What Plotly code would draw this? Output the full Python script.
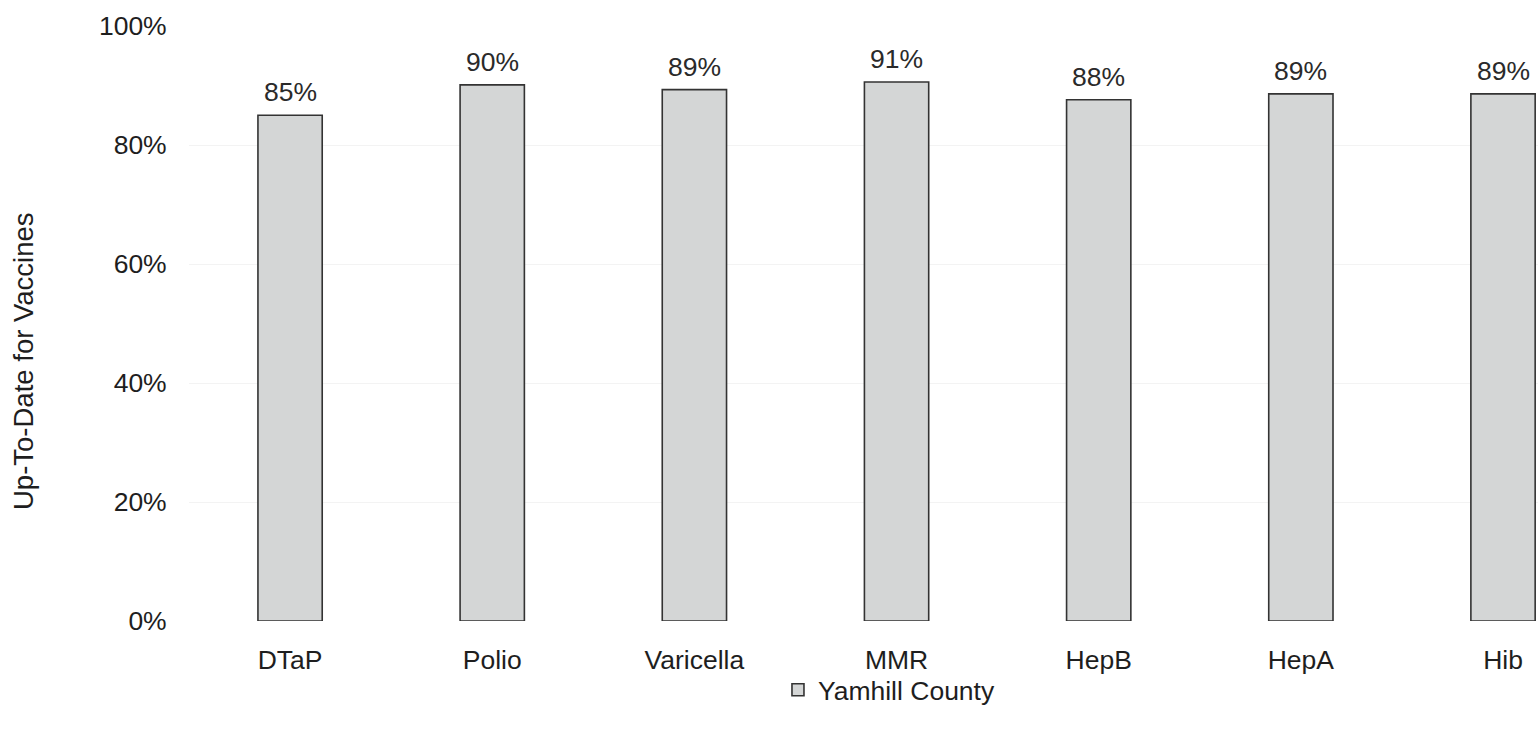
import plotly.graph_objects as go

categories = ["DTaP", "Polio", "Varicella", "MMR", "HepB", "HepA", "Hib"]
values = [85.0, 90.1, 89.3, 90.6, 87.6, 88.6, 88.6]
series_name = "Yamhill County"
y_ticks = [0, 20, 40, 60, 80, 100]
y_tick_labels = ["0%", "20%", "40%", "60%", "80%", "100%"]
y_title = "Up-To-Date for Vaccines"

FONT = "Liberation Sans, Arial, sans-serif"
TXT = "#1e1e1e"
FS = 26.5

fig = go.Figure()
fig.add_trace(go.Bar(
    x=categories, y=values, name=series_name,
    marker=dict(color="#d4d6d6", line=dict(color="#333333", width=1.6)),
    showlegend=True,
))

annotations = [dict(text=y_title, textangle=-90, xref="paper", yref="paper",
                    x=-0.1223, y=0.437, xanchor="center", yanchor="middle",
                    showarrow=False, font=dict(family=FONT, size=27.5, color=TXT))]
for c, v in zip(categories, values):
    annotations.append(dict(x=c, y=v, xref="x", yref="y", text=f"{v:.0f}%",
                            showarrow=False, yanchor="bottom", yshift=6,
                            font=dict(family=FONT, size=FS, color="#2a2a2a")))

fig.update_layout(
    width=1538, height=730,
    margin=dict(l=189, r=0, t=26, b=109),
    paper_bgcolor="white", plot_bgcolor="white",
    bargap=0.682,
    font=dict(family=FONT, size=FS, color=TXT),
    showlegend=True,
    legend=dict(orientation="h", x=0.4366, xanchor="left", y=-0.116, yanchor="middle",
                font=dict(family=FONT, size=FS, color=TXT), itemwidth=30,
                bgcolor="rgba(0,0,0,0)"),
    xaxis=dict(range=[-0.5, 6.173], showgrid=False, showline=False, zeroline=False,
               ticks="outside", ticklen=15, tickcolor="rgba(0,0,0,0)",
               tickfont=dict(family=FONT, size=FS, color=TXT)),
    yaxis=dict(range=[0, 100], tickvals=y_ticks, ticktext=y_tick_labels,
               showgrid=True, gridcolor="#f3f3f3", gridwidth=1,
               zeroline=False, showline=False,
               ticks="outside", ticklen=16, tickcolor="rgba(0,0,0,0)",
               tickfont=dict(family=FONT, size=FS, color=TXT)),
    annotations=annotations,
)

fig.write_html("out.html", config={"displayModeBar": False},
               post_script="document.body.style.margin='0px';")
